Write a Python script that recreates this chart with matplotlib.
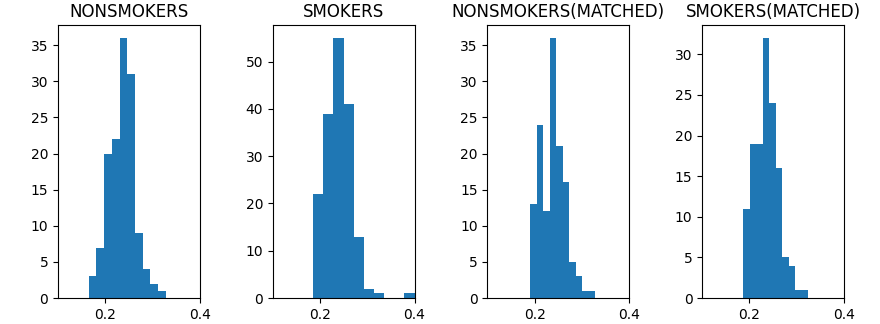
import matplotlib
matplotlib.use("Agg")
import matplotlib.pyplot as plt
import numpy as np

# group titles
GROUPS = ["NONSMOKERS", "SMOKERS", "NONSMOKERS(MATCHED)", "SMOKERS(MATCHED)"]

# histogram range per group (10 equal bins between lo and hi)
BIN_LO = [0.165, 0.1856, 0.1908, 0.1866]
BIN_HI = [0.3275, 0.400, 0.3285, 0.3243]

# counts per bin
COUNTS_NONSMOKERS = [3, 7, 20, 22, 36, 31, 9, 4, 2, 1]
COUNTS_SMOKERS = [22, 39, 55, 41, 13, 2, 1, 0, 0, 1]
COUNTS_NONSMOKERS_MATCHED = [13, 24, 12, 36, 21, 16, 5, 3, 1, 1]
COUNTS_SMOKERS_MATCHED = [11, 19, 19, 32, 24, 16, 5, 4, 1, 1]

ALL_COUNTS = [COUNTS_NONSMOKERS, COUNTS_SMOKERS,
              COUNTS_NONSMOKERS_MATCHED, COUNTS_SMOKERS_MATCHED]

fig, axes = plt.subplots(1, 4, figsize=(8.8, 3.24), dpi=100)
fig.subplots_adjust(left=0.066, right=0.959, bottom=0.080, top=0.923, wspace=0.514)

for ax, title, lo, hi, counts in zip(axes, GROUPS, BIN_LO, BIN_HI, ALL_COUNTS):
    edges = np.linspace(lo, hi, len(counts) + 1)
    centers = 0.5 * (edges[:-1] + edges[1:])
    ax.hist(centers, bins=edges, weights=counts, color="#1f77b4")
    ax.set_xlim(0.1, 0.4)
    ax.set_xticks([0.2, 0.4])
    ax.set_title(title)

fig.savefig("out.png", dpi=100)
